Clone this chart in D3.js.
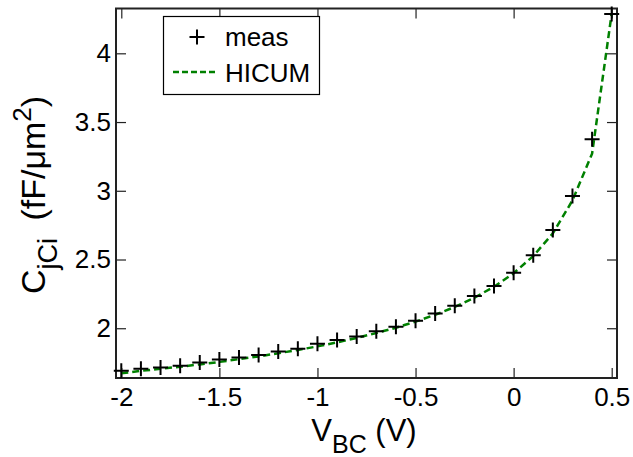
<!DOCTYPE html>
<html>
<head>
<meta charset="utf-8">
<script src="https://cdn.jsdelivr.net/npm/d3@7"></script>
<style>
  body { margin: 0; background: #fff; }
  svg { display: block; font-family: "Liberation Sans", Arial, sans-serif; }
</style>
</head>
<body>
<div id="chart"></div>
<script>
// data
const vbc = [-2, -1.9, -1.8, -1.7, -1.6, -1.5, -1.4, -1.3, -1.2, -1.1, -1, -0.9, -0.8,
             -0.7, -0.6, -0.5, -0.4, -0.3, -0.2, -0.1, 0, 0.1, 0.2, 0.3, 0.4, 0.5];
const meas = [1.69, 1.705, 1.715, 1.728, 1.75, 1.772, 1.787, 1.805, 1.83, 1.85, 1.887, 1.915, 1.94,
              1.978, 2.01, 2.055, 2.108, 2.164, 2.235, 2.308, 2.404, 2.531, 2.715, 2.962, 3.375, 4.286];
const hicum = [1.672, 1.69, 1.705, 1.72, 1.737, 1.755, 1.775, 1.795, 1.818, 1.842, 1.868, 1.897, 1.93,
               1.965, 2.004, 2.048, 2.098, 2.155, 2.222, 2.302, 2.4, 2.525, 2.69, 2.93, 3.27, 4.29];
const xTicks = [-2, -1.5, -1, -0.5, 0, 0.5];
const yTicks = [2, 2.5, 3, 3.5, 4];

const width = 633;
const height = 457;
const margin = ({top: 8.5, right: 16, bottom: 79, left: 116});

const svg = d3.create('svg')
  .attr('width', width)
  .attr('height', height);

const xScale = d3.scaleLinear()
  .domain([-2.027, 0.527])
  .range([margin.left, width - margin.right]);

const yScale = d3.scaleLinear()
  .domain([1.638, 4.326])
  .range([height - margin.bottom, margin.top]);

const fmt = d => String(d);
const tickLen = 10;

// axes, ticks pointing inwards on all four sides
svg.append('g')
  .attr('transform', `translate(0, ${height - margin.bottom})`)
  .call(d3.axisBottom(xScale).tickValues(xTicks).tickFormat(fmt).tickSizeInner(-tickLen).tickSizeOuter(0).tickPadding(10));
svg.append('g')
  .attr('transform', `translate(0, ${margin.top})`)
  .call(d3.axisTop(xScale).tickValues(xTicks).tickFormat('').tickSizeInner(-tickLen).tickSizeOuter(0));
svg.append('g')
  .attr('transform', `translate(${margin.left}, 0)`)
  .call(d3.axisLeft(yScale).tickValues(yTicks).tickFormat(fmt).tickSizeInner(-tickLen).tickSizeOuter(0).tickPadding(5));
svg.append('g')
  .attr('transform', `translate(${width - margin.right}, 0)`)
  .call(d3.axisRight(yScale).tickValues(yTicks).tickFormat('').tickSizeInner(-tickLen).tickSizeOuter(0));

svg.selectAll('.domain').remove();
svg.selectAll('.tick line').attr('stroke', '#222').attr('stroke-width', 1.2);
svg.selectAll('.tick text')
  .attr('font-size', '26px')
  .attr('fill', '#000')
  .attr('font-family', '"Liberation Sans", Arial, sans-serif');

// frame
svg.append('rect')
  .attr('x', margin.left)
  .attr('y', margin.top)
  .attr('width', width - margin.left - margin.right)
  .attr('height', height - margin.top - margin.bottom)
  .attr('fill', 'none')
  .attr('stroke', '#222')
  .attr('stroke-width', 2);

// HICUM model line
const line = d3.line()
  .x((d, i) => xScale(vbc[i]))
  .y(d => yScale(d));

svg.append('path')
  .datum(hicum)
  .attr('d', line)
  .attr('fill', 'none')
  .attr('stroke', '#008000')
  .attr('stroke-width', 2.5)
  .attr('stroke-dasharray', '7,4');

// measured points as "+"
const plus = 'M-7.5,0H7.5M0,-7.5V7.5';
svg.append('g')
  .selectAll('path')
  .data(meas)
  .join('path')
  .attr('transform', (d, i) => `translate(${xScale(vbc[i])}, ${yScale(d)})`)
  .attr('d', plus)
  .attr('stroke', '#000')
  .attr('stroke-width', 2)
  .attr('fill', 'none');

// legend
const legend = svg.append('g');
legend.append('rect')
  .attr('x', 163.5).attr('y', 16.5)
  .attr('width', 156).attr('height', 78)
  .attr('fill', '#fff')
  .attr('stroke', '#000')
  .attr('stroke-width', 1.2);
legend.append('path')
  .attr('transform', 'translate(197, 37)')
  .attr('d', plus)
  .attr('stroke', '#000')
  .attr('stroke-width', 2);
legend.append('line')
  .attr('x1', 173).attr('x2', 217)
  .attr('y1', 72).attr('y2', 72)
  .attr('stroke', '#008000')
  .attr('stroke-width', 2.5)
  .attr('stroke-dasharray', '6,3');
legend.append('text')
  .attr('x', 225).attr('y', 46)
  .attr('font-size', '26px')
  .text('meas');
legend.append('text')
  .attr('x', 225).attr('y', 82)
  .attr('font-size', '26px')
  .text('HICUM');

// x label: V_BC (V)
const xl = svg.append('text')
  .attr('x', 364)
  .attr('y', 441)
  .attr('text-anchor', 'middle')
  .attr('font-size', '31px');
xl.append('tspan').text('V');
xl.append('tspan').attr('font-size', '25px').attr('dy', 12).text('BC');
xl.append('tspan').attr('dy', -12).text(' (V)');

// y label: C_jCi (fF/um^2)
const yl = svg.append('text')
  .attr('transform', `translate(45, 195) rotate(-90)`)
  .attr('text-anchor', 'middle')
  .attr('font-size', '34px');
yl.append('tspan').text('C');
yl.append('tspan').attr('font-size', '27px').attr('dy', 12).text('jCi');
yl.append('tspan').attr('dy', -12).attr('dx', 8).text(' (fF/μm');
yl.append('tspan').attr('font-size', '26px').attr('dy', -14).text('2');
yl.append('tspan').attr('dy', 14).text(')');

document.getElementById('chart').appendChild(svg.node());
</script>
</body>
</html>
